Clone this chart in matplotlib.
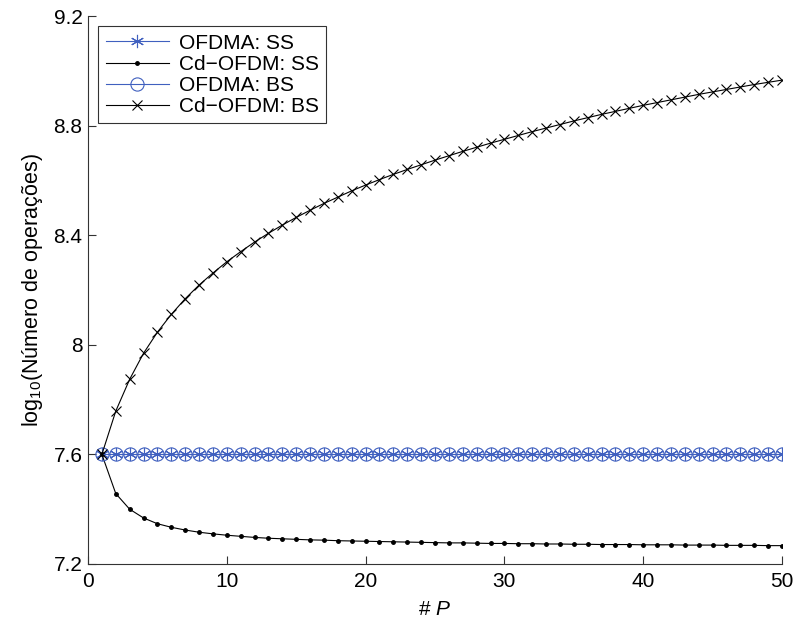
import numpy as np
import matplotlib
matplotlib.use("Agg")
import matplotlib.pyplot as plt

plt.rcParams['font.family'] = ['Liberation Sans', 'DejaVu Sans']
plt.rcParams['mathtext.fontset'] = 'custom'
plt.rcParams['mathtext.rm'] = 'Liberation Sans'
plt.rcParams['mathtext.it'] = 'Liberation Sans:italic'

# dados
P = np.arange(1, 51)
ofdma_ss = [7.6] * 50
ofdma_bs = [7.6] * 50
cd_ss = [7.600, 7.457, 7.400, 7.368, 7.347, 7.334, 7.324, 7.316, 7.310, 7.305,
         7.301, 7.297, 7.294, 7.292, 7.290, 7.288, 7.287, 7.285, 7.284, 7.283,
         7.282, 7.281, 7.280, 7.279, 7.278, 7.277, 7.277, 7.276, 7.275, 7.275,
         7.274, 7.274, 7.273, 7.273, 7.272, 7.272, 7.271, 7.271, 7.271, 7.270,
         7.270, 7.270, 7.269, 7.269, 7.269, 7.268, 7.268, 7.268, 7.267, 7.267]
cd_bs = [7.600, 7.758, 7.874, 7.969, 8.046, 8.111, 8.168, 8.218, 8.262, 8.303,
         8.340, 8.375, 8.407, 8.437, 8.465, 8.491, 8.516, 8.539, 8.562, 8.583,
         8.603, 8.622, 8.640, 8.657, 8.674, 8.690, 8.706, 8.721, 8.736, 8.750,
         8.764, 8.778, 8.791, 8.804, 8.817, 8.829, 8.841, 8.852, 8.863, 8.874,
         8.884, 8.894, 8.904, 8.914, 8.923, 8.932, 8.941, 8.950, 8.958, 8.966]

blue = '#4060bf'

fig = plt.figure(figsize=(7.95, 6.21), dpi=100)
ax = fig.add_axes([0.1107, 0.0918, 0.8729, 0.8824])

ax.plot(P, ofdma_ss, color=blue, lw=0.8, marker=(6, 2, 0), ms=9.5, mew=0.8, label='OFDMA: SS')
ax.plot(P, cd_ss, color='k', lw=0.8, marker='.', ms=5, label='Cd\u2212OFDM: SS')
ax.plot(P, ofdma_bs, color=blue, lw=0.8, marker='o', ms=9.5, mfc='none', mew=0.8, label='OFDMA: BS')
ax.plot(P, cd_bs, color='k', lw=0.8, marker='x', ms=7, mew=0.8, label='Cd\u2212OFDM: BS')

ax.set_xlim(0, 50)
ax.set_ylim(7.2, 9.2)
ax.set_xticks([0, 10, 20, 30, 40, 50])
ax.set_yticks([7.2, 7.6, 8.0, 8.4, 8.8, 9.2])
ax.set_yticklabels(['7.2', '7.6', '8', '8.4', '8.8', '9.2'])
ax.tick_params(direction='in', labelsize=15, length=6, color='#333333', width=0.8)
ax.tick_params(axis='x', pad=6)
ax.tick_params(axis='y', pad=4)
for s in ['top', 'right']:
    ax.spines[s].set_visible(False)
for s in ['left', 'bottom']:
    ax.spines[s].set_color('#333333')
    ax.spines[s].set_linewidth(0.8)

ax.set_xlabel('# $P$', fontsize=15, labelpad=6)
ax.set_ylabel('log$_{10}$(Número de operações)', fontsize=15.5, labelpad=6)

leg = ax.legend(loc='upper left', fontsize=15, frameon=True, fancybox=False,
                edgecolor='k', handlelength=3.05, borderaxespad=0.5,
                labelspacing=0.1, handletextpad=0.45, borderpad=0.35)
leg.get_frame().set_linewidth(0.8)

fig.savefig('out.png', dpi=100)
